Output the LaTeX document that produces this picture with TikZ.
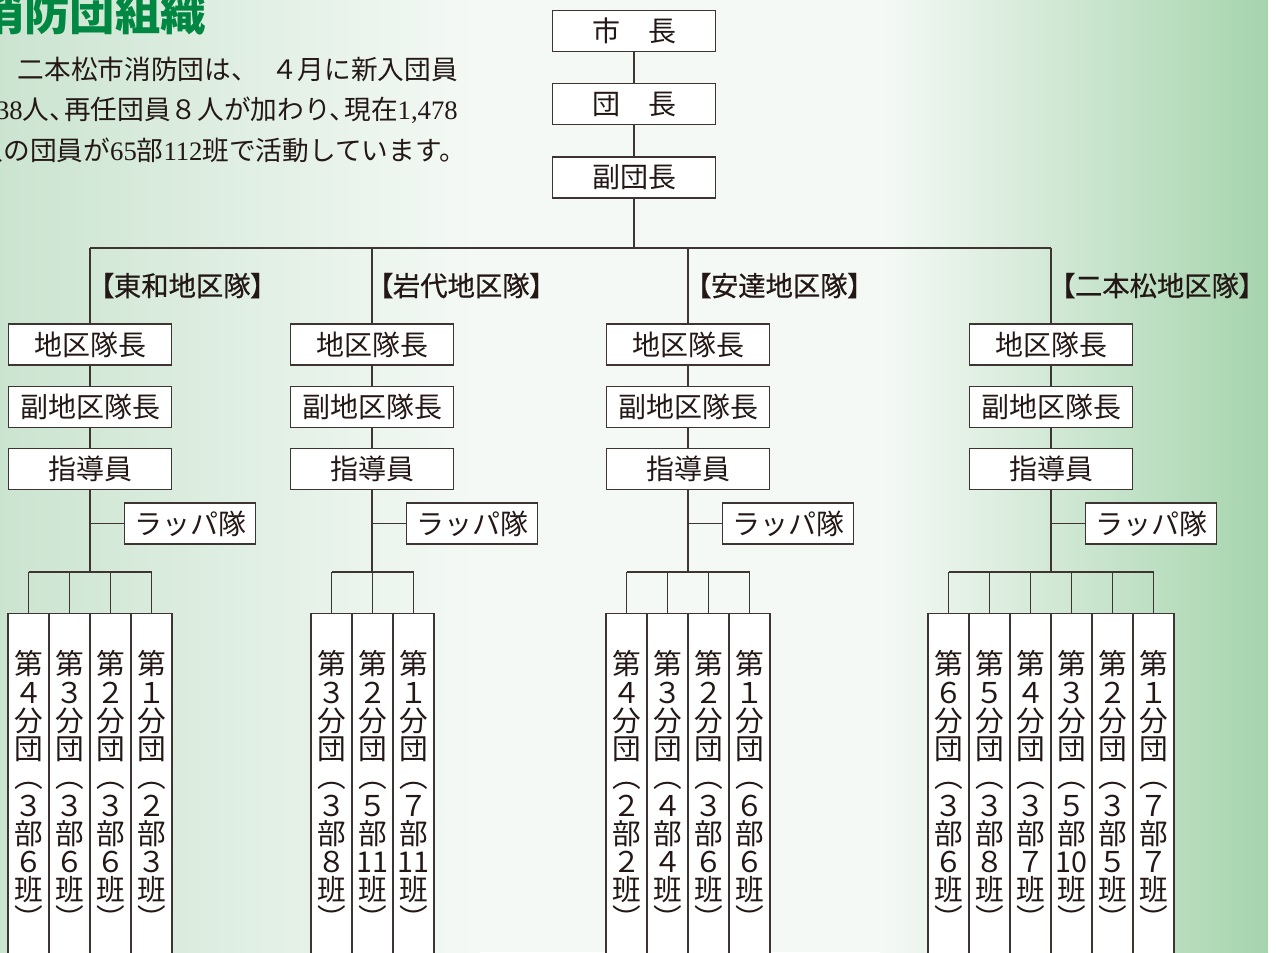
\documentclass[tikz,border=0pt]{standalone}
\usepackage{fontspec}
\setmainfont{Noto Sans CJK JP}
\newfontfamily\labeljp[FakeBold=0.6,RawFeature=+palt]{Noto Sans CJK JP}
\newfontfamily\numfont{Liberation Serif}
\usetikzlibrary{positioning}

\definecolor{titlegreen}{RGB}{0,136,66}
\definecolor{edgegreen}{RGB}{203,228,208}
\definecolor{rightgreen}{RGB}{166,212,173}
\definecolor{paleground}{RGB}{245,249,246}
\definecolor{inkline}{RGB}{62,52,50}
\definecolor{inktext}{RGB}{35,24,21}

\newcommand\bunpart[3]{第\\#1\\分\\団\\︵\\#2\\部\\#3\\班\\︶}
\newcommand\num[1]{{\numfont #1}}
\newcommand\tightcomma{、\hspace{-0.45em}}

\begin{document}
\begin{tikzpicture}[x=0.75pt,y=-0.75pt,
    every node/.style={text=inktext},
    box/.style={draw=inkline,line width=1pt,fill=white,inner sep=0pt,
        minimum width=122.25pt,minimum height=30.75pt,
        font=\fontsize{21}{21}\selectfont},
    rappabox/.style={box,minimum width=98.25pt},
    tatebox/.style={draw=inkline,line width=1pt,fill=white,inner sep=0pt,
        minimum width=30.75pt,minimum height=280pt,anchor=north},
    tatetext/.style={align=center,inner sep=0pt,
        font=\fontsize{21.5}{21.2}\selectfont},
    kulabel/.style={anchor=base west,inner sep=0pt,
        font=\labeljp\fontsize{20.5}{20.5}\selectfont},
    intro/.style={anchor=base east,inner sep=0pt,
        font=\fontsize{20}{20}\selectfont},
    link/.style={draw=inkline,line width=1pt}]

    \useasboundingbox (0,0) rectangle (1276,952);
    \clip (0,0) rectangle (1276,952);

    % background
    \fill[left color=edgegreen,right color=paleground] (0,0) rectangle (480,952);
    \fill[paleground] (479,0) rectangle (881,952);
    \fill[left color=paleground,right color=rightgreen] (880,0) rectangle (1268,952);
    \fill[white] (1268,0) rectangle (1276,952);

    % title and intro
    \node[anchor=base east,inner sep=0pt,text=titlegreen,
        font=\bfseries\fontsize{34}{34}\selectfont] (title) at (206,31) {消防団組織};
    \node[intro] (intro1) at (458,80) {二本松市消防団は、\hspace{10pt}４月に新入団員};
    \node[intro] (intro2) at (458,120) {\num{38}人\tightcomma 再任団員８人が加わり\tightcomma 現在\num{1,478}};
    \node[intro] (intro3) at (466,161) {人の団員が\num{65}部\num{112}班で活動しています。};

    % head of the brigade
    \node[box] (shicho) at (634,31) {市\hspace{1em}長};
    \node[box] (dancho) at (634,104) {団\hspace{1em}長};
    \node[box] (fukudancho) at (634,177.5) {副団長};
    \coordinate (busL) at (90,248);
    \coordinate (busR) at (1051,248);
    \draw[link] (shicho) -- (dancho) -- (fukudancho) -- (fukudancho |- busL);
    \draw[link] (busL) -- (busR);

    % district corps
    \foreach \X/\n/\lx/\lab in {90/1/100/【東和地区隊】,372/2/379/【岩代地区隊】,
            688/3/697/【安達地区隊】,1051/4/1061/【二本松地区隊】}{
        \node[kulabel] (ku\n) at (\lx,296) {\lab};
        \node[box] (chiku\n) at (\X,344.5) {地区隊長};
        \node[box] (fuku\n) at (\X,407) {副地区隊長};
        \node[box] (shido\n) at (\X,469) {指導員};
        \node[rappabox,anchor=west] (rappa\n) at (\X+34,523.5) {ラッパ隊};
        \coordinate (bar\n) at (\X,572);
        \draw[link] (chiku\n |- busL) -- (chiku\n) -- (fuku\n) -- (shido\n) -- (bar\n);
        \draw[link] (rappa\n) -- (rappa\n.west -| shido\n);
    }

    % branch units
    \foreach \i/\a/\b/\c in {0/４/３/６,1/３/３/６,2/２/３/６,3/１/２/３}{
        \node[tatebox] (bu1-\i) at (28.5+41*\i,613) {};
        \node[tatetext,below=28pt of bu1-\i.north] (bt1-\i) {\bunpart{\a}{\b}{\c}};
        \draw[link] (bu1-\i.north) -- (bu1-\i.north |- bar1);
    }
    \draw[link] (bu1-0.north |- bar1) -- (bu1-3.north |- bar1);

    \foreach \i/\a/\b/\c in {0/３/３/８,1/２/５/11,2/１/７/11}{
        \node[tatebox] (bu2-\i) at (331.5+41*\i,613) {};
        \node[tatetext,below=28pt of bu2-\i.north] (bt2-\i) {\bunpart{\a}{\b}{\c}};
        \draw[link] (bu2-\i.north) -- (bu2-\i.north |- bar2);
    }
    \draw[link] (bu2-0.north |- bar2) -- (bu2-2.north |- bar2);

    \foreach \i/\a/\b/\c in {0/４/２/２,1/３/４/４,2/２/３/６,3/１/６/６}{
        \node[tatebox] (bu3-\i) at (626.5+41*\i,613) {};
        \node[tatetext,below=28pt of bu3-\i.north] (bt3-\i) {\bunpart{\a}{\b}{\c}};
        \draw[link] (bu3-\i.north) -- (bu3-\i.north |- bar3);
    }
    \draw[link] (bu3-0.north |- bar3) -- (bu3-3.north |- bar3);

    \foreach \i/\a/\b/\c in {0/６/３/６,1/５/３/８,2/４/３/７,3/３/５/10,4/２/３/５,5/１/７/７}{
        \node[tatebox] (bu4-\i) at (948.5+41*\i,613) {};
        \node[tatetext,below=28pt of bu4-\i.north] (bt4-\i) {\bunpart{\a}{\b}{\c}};
        \draw[link] (bu4-\i.north) -- (bu4-\i.north |- bar4);
    }
    \draw[link] (bu4-0.north |- bar4) -- (bu4-5.north |- bar4);
\end{tikzpicture}
\end{document}
